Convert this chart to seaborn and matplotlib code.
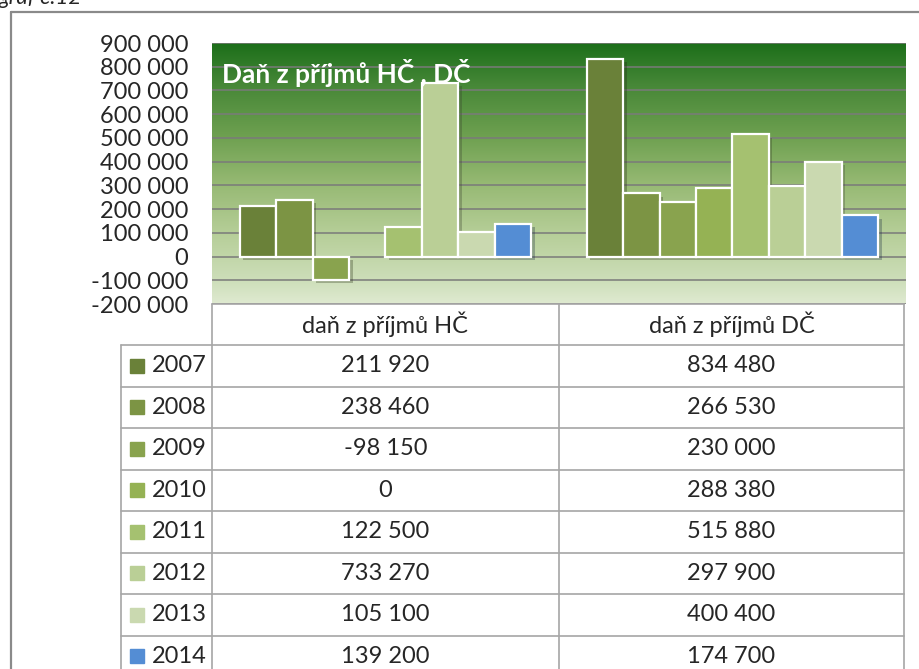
#!/usr/bin/env python3
# -*- coding: utf-8 -*-
"""Daň z příjmů HČ, DČ – grouped bars with a data table underneath."""

import numpy as np
import pandas as pd
import matplotlib
matplotlib.use("Agg")
import matplotlib.pyplot as plt
import matplotlib.patheffects as pe
from matplotlib.colors import LinearSegmentedColormap
import seaborn as sns

# ---------- DATA ----------
CATEGORIES = ["daň z příjmů HČ", "daň z příjmů DČ"]
YEARS = ["2007", "2008", "2009", "2010", "2011", "2012", "2013", "2014"]
HC_VALUES = [211920, 238460, -98150, 0, 122500, 733270, 105100, 139200]
DC_VALUES = [834480, 266530, 230000, 288380, 515880, 297900, 400400, 174700]
YEAR_COLORS = ["#6a8139", "#7c9444", "#89a34e", "#95b254",
               "#a5c170", "#bacf96", "#cad9b0", "#548dd4"]
TITLE = "Daň z příjmů HČ , DČ"
CAPTION = "graf č.12"
Y_TICKS = list(range(-200000, 900001, 100000))
# --------------------------

sns.set_theme(style="white")
plt.rcParams["font.family"] = ["Lato", "DejaVu Sans"]
TXT = "#262626"
FS = 17

W, H = 920, 669
fig = plt.figure(figsize=(W / 100, H / 100), dpi=100)
fig.patch.set_facecolor("white")

# plot area (pixel layout -> figure fractions)
ax = fig.add_axes([212 / W, 1 - 304 / H, (906 - 212) / W, (304 - 43) / H])

df = pd.DataFrame({
    "kategorie": [CATEGORIES[0]] * len(YEARS) + [CATEGORIES[1]] * len(YEARS),
    "rok": YEARS + YEARS,
    "hodnota": HC_VALUES + DC_VALUES,
})

# green gradient background
bg = LinearSegmentedColormap.from_list("bg", [
    (0.00, "#1b6e19"), (0.16, "#468737"), (0.36, "#6ea050"),
    (0.54, "#96b973"), (0.72, "#b4cd96"), (0.91, "#cddeb9"), (1.00, "#dfead0")])
ax.imshow(np.linspace(0, 1, 256).reshape(-1, 1), cmap=bg, aspect="auto",
          extent=[0, 1, 0, 1], transform=ax.transAxes, zorder=0)

sns.barplot(data=df, x="kategorie", y="hodnota", hue="rok", hue_order=YEARS,
            palette=YEAR_COLORS, saturation=1, width=0.84,
            edgecolor="white", linewidth=1.6, legend=False, ax=ax, zorder=3)

for p in ax.patches:
    if p.get_height() == 0:
        p.set_visible(False)
    else:
        p.set_path_effects([pe.SimplePatchShadow(offset=(2.5, -2.5), alpha=0.3),
                            pe.Normal()])

ax.set_xlim(-0.5, 1.5)
ax.set_ylim(Y_TICKS[0], Y_TICKS[-1])
ax.set_yticks(Y_TICKS)
ax.set_yticklabels([f"{v:,}".replace(",", " ") for v in Y_TICKS],
                   fontsize=FS, color=TXT)
ax.set_xticks([])
ax.set_xlabel("")
ax.set_ylabel("")
ax.tick_params(axis="y", length=0, pad=17)
ax.yaxis.grid(True, color="#7a7a7a", lw=1.1, zorder=1)
ax.set_axisbelow(True)
for s in ax.spines.values():
    s.set_visible(False)

ax.text(0.015, 0.885, TITLE, transform=ax.transAxes, color="white",
        fontsize=19, fontweight="bold", ha="left", va="center", zorder=5)

# ---------- overlay: frame, caption and data table ----------
ov = fig.add_axes([0, 0, 1, 1], zorder=-1)
ov.set_xlim(0, W)
ov.set_ylim(H, 0)
ov.axis("off")
ov.patch.set_alpha(0)

frame = "#8a8a8a"
ov.plot([11, W], [12, 12], color=frame, lw=1.6)
ov.plot([11, 11], [12, H], color=frame, lw=1.6)
ov.text(-1, 4, CAPTION, fontsize=16, style="italic", color=TXT,
        ha="left", va="baseline")

tab = fig.add_axes([0, 0, 1, 1], zorder=2)
tab.set_xlim(0, W)
tab.set_ylim(H, 0)
tab.axis("off")
tab.patch.set_alpha(0)

line = "#a6a6a6"
x_leg, x0, x1, x2 = 121, 212, 559, 904
y_top, y_head, row_h = 304, 345, 41.5
tab.plot([x0, x2], [y_top, y_top], color=line, lw=1.2)
for xv in (x0, x1, x2):
    tab.plot([xv, xv], [y_top, H], color=line, lw=1.2)
tab.plot([x_leg, x_leg], [y_head, H], color=line, lw=1.2)
for i in range(len(YEARS)):
    yv = y_head + i * row_h
    tab.plot([x_leg, x2], [yv, yv], color=line, lw=1.2)

centers = [(x0 + x1) / 2, (x1 + x2) / 2]
for c, name in zip(centers, CATEGORIES):
    tab.text(c, (y_top + y_head) / 2, name, fontsize=FS, color=TXT,
             ha="center", va="center")

for i, (yr, col, hv, dv) in enumerate(zip(YEARS, YEAR_COLORS, HC_VALUES, DC_VALUES)):
    yc = y_head + (i + 0.5) * row_h
    tab.add_patch(plt.Rectangle((130, yc - 7), 14, 14, color=col))
    tab.text(152, yc, yr, fontsize=FS, color=TXT, ha="left", va="center")
    for c, v in zip(centers, (hv, dv)):
        tab.text(c, yc, f"{v:,}".replace(",", " "), fontsize=FS, color=TXT,
                 ha="center", va="center")

fig.savefig("out.png", dpi=100, facecolor="white")
